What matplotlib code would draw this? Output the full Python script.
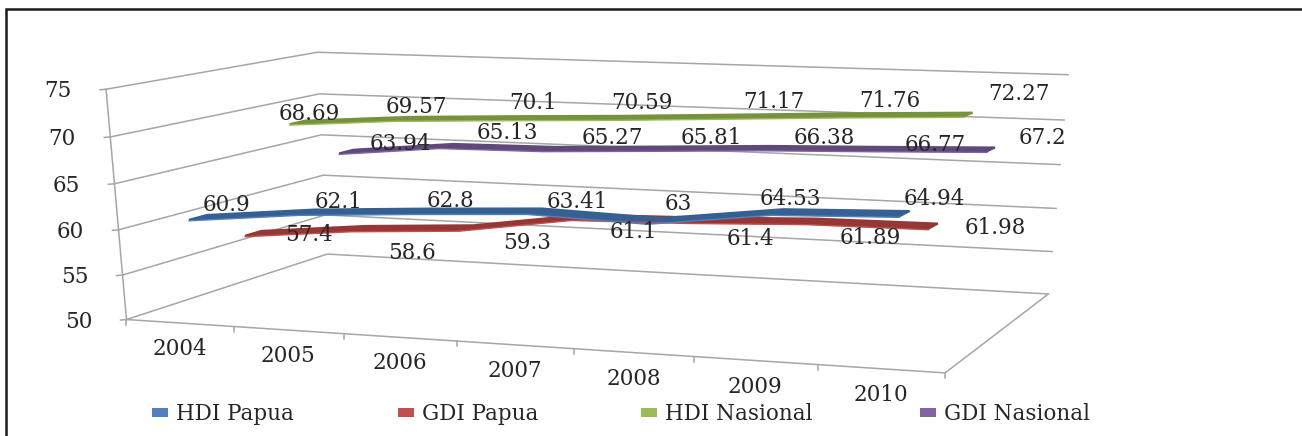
import numpy as np
import matplotlib
matplotlib.use('Agg')
import matplotlib.pyplot as plt
from matplotlib.patches import Polygon, Rectangle

years = ['2004', '2005', '2006', '2007', '2008', '2009', '2010']
y_ticks = [50, 55, 60, 65, 70, 75]

hdi_papua = [60.9, 62.1, 62.8, 63.41, 63, 64.53, 64.94]
gdi_papua = [57.4, 58.6, 59.3, 61.1, 61.4, 61.89, 61.98]
hdi_nasional = [68.69, 69.57, 70.1, 70.59, 71.17, 71.76, 72.27]
gdi_nasional = [63.94, 65.13, 65.27, 65.81, 66.38, 66.77, 67.2]

# the label text is the value as printed on the chart
hdi_papua_lbl = ['60.9', '62.1', '62.8', '63.41', '63', '64.53', '64.94']
gdi_papua_lbl = ['57.4', '58.6', '59.3', '61.1', '61.4', '61.89', '61.98']
hdi_nasional_lbl = ['68.69', '69.57', '70.1', '70.59', '71.17', '71.76', '72.27']
gdi_nasional_lbl = ['63.94', '65.13', '65.27', '65.81', '66.38', '66.77', '67.2']

# label centres in image pixels, they do not follow the points exactly in the original
hdi_papua_xy = [(226, 205), (338, 202), (450, 201), (577, 202), (678, 204), (790, 199), (934, 199)]
gdi_papua_xy = [(309, 235), (412, 253), (527, 243), (633, 232), (750, 239), (870, 238), (995, 228)]
hdi_nasional_xy = [(309, 114), (416, 107), (533, 103), (642, 103), (774, 102), (890, 101), (1019, 94)]
gdi_nasional_xy = [(400, 144), (507, 133), (612, 138), (711, 138), (824, 138), (935, 145), (1043, 138)]

# calibration of the 3d box: category position, depth, value -> image pixel
calib = [
    (0, 0, 50, 125, 319), (0, 0, 55, 123.5, 275), (0, 0, 60, 120, 229),
    (0, 0, 65, 114, 184), (0, 0, 70, 110, 137), (0, 0, 75, 105.7, 89),
    (0, 1, 50, 327.5, 254), (0, 1, 55, 325.5, 215), (0, 1, 60, 323, 175),
    (0, 1, 65, 321, 135), (0, 1, 70, 319, 94), (0, 1, 75, 318, 52.7),
    (7, 1, 50, 1048, 294), (7, 1, 55, 1052.8, 251.7), (7, 1, 60, 1056, 208),
    (7, 1, 65, 1060, 164), (7, 1, 70, 1064.5, 120), (7, 1, 75, 1068, 75),
    (7, 0, 50, 945, 372.7), (2, 0, 50, 344, 334), (3, 0, 50, 457, 341.7),
    (4, 0, 50, 575, 349), (6, 0, 50, 817, 365),
]


def fit_projection(points):
    # plain DLT fit of a 3x4 camera matrix
    rows = []
    for u, v, val, px, py in points:
        w = [u / 7, v, (val - 50) / 25, 1]
        rows.append(w + [0, 0, 0, 0] + [-px / 1000 * c for c in w])
        rows.append([0, 0, 0, 0] + w + [-py / 1000 * c for c in w])
    _, _, vt = np.linalg.svd(np.array(rows))
    return vt[-1].reshape(3, 4)


P = fit_projection(calib)


def project(u, v, val):
    u, v, val = np.broadcast_arrays(np.asarray(u, float), np.asarray(v, float), np.asarray(val, float))
    w = np.stack([u / 7, v, (val - 50) / 25, np.ones_like(u)])
    q = P @ w
    return q[0] / q[2] * 1000, q[1] / q[2] * 1000


fig = plt.figure(figsize=(13.02, 4.36), dpi=100)
ax = fig.add_axes([0, 0, 1, 1])
ax.set_xlim(0, 1302)
ax.set_ylim(436, 0)
ax.axis('off')

plt.rcParams['font.family'] = 'DejaVu Serif'
grid_col = '#a6a6a6'
txt_col = '#262626'
fs = 15.5

# outer border, only top and left show in the original
ax.plot([5.5, 5.5, 1302], [436, 9.5, 9.5], color='#1a1a1a', lw=1.8, solid_joinstyle='miter')

# walls and floor
for t in y_ticks:
    x, y = project([0, 0, 7], [0, 1, 1], t)
    ax.plot(x, y, color=grid_col, lw=1.1)
    tx, ty = project(0, 0, t)
    ax.plot([tx - 6, tx], [ty + 0.5, ty], color=grid_col, lw=1.1)
    ax.text(tx - 48, ty + 2, str(t), ha='center', va='center', fontsize=fs, color=txt_col)

x, y = project([0, 0], [0, 0], [50, 75])
ax.plot(x, y, color=grid_col, lw=1.1)
x, y = project([0, 7, 7], [0, 0, 1], 50)
ax.plot(x, y, color=grid_col, lw=1.1)

for i in range(8):
    tx, ty = project(i, 0, 50)
    ax.plot([tx, tx], [ty, ty + 5], color=grid_col, lw=1.1)
for i, yr in enumerate(years):
    tx, ty = project(i + 0.5, 0, 50)
    ax.text(tx, ty + 26, yr, ha='center', va='center', fontsize=fs, color=txt_col)

# ribbons, from the back to the front
series = [
    (gdi_nasional, 0.825, '#5f497a', '#8064a2'),
    (hdi_nasional, 0.575, '#76923c', '#9bbb59'),
    (gdi_papua, 0.325, '#953735', '#c0504d'),
    (hdi_papua, 0.075, '#376092', '#4f81bd'),
]
depth = 0.08
cats = np.arange(7) + 0.5
for vals, v0, dark, light in series:
    xa, ya = project(cats, v0, vals)
    xb, yb = project(cats, v0 + depth, vals)
    pts = np.column_stack([np.r_[xa, xb[::-1]], np.r_[ya, yb[::-1]]])
    ax.add_patch(Polygon(pts, closed=True, facecolor=dark, edgecolor=dark, lw=1.5, zorder=3))
    ax.plot(xa, ya + 1, color=light, lw=1, zorder=3.1)

# data labels
all_labels = [
    (hdi_papua_lbl, hdi_papua_xy), (gdi_papua_lbl, gdi_papua_xy),
    (hdi_nasional_lbl, hdi_nasional_xy), (gdi_nasional_lbl, gdi_nasional_xy),
]
for labels, xy in all_labels:
    for lbl, (px, py) in zip(labels, xy):
        ax.text(px, py, lbl, ha='center', va='center', fontsize=fs, color=txt_col, zorder=5)

# legend
legend_items = [
    ('HDI Papua', '#4f81bd', 152), ('GDI Papua', '#c0504d', 398),
    ('HDI Nasional', '#9bbb59', 641), ('GDI Nasional', '#8064a2', 920),
]
for name, col, lx in legend_items:
    ax.add_patch(Rectangle((lx, 408), 16, 8.5, facecolor=col, edgecolor='none'))
    ax.text(lx + 24, 413.5, name, ha='left', va='center', fontsize=fs, color=txt_col)

fig.savefig('out.png', dpi=100)
plt.close(fig)
